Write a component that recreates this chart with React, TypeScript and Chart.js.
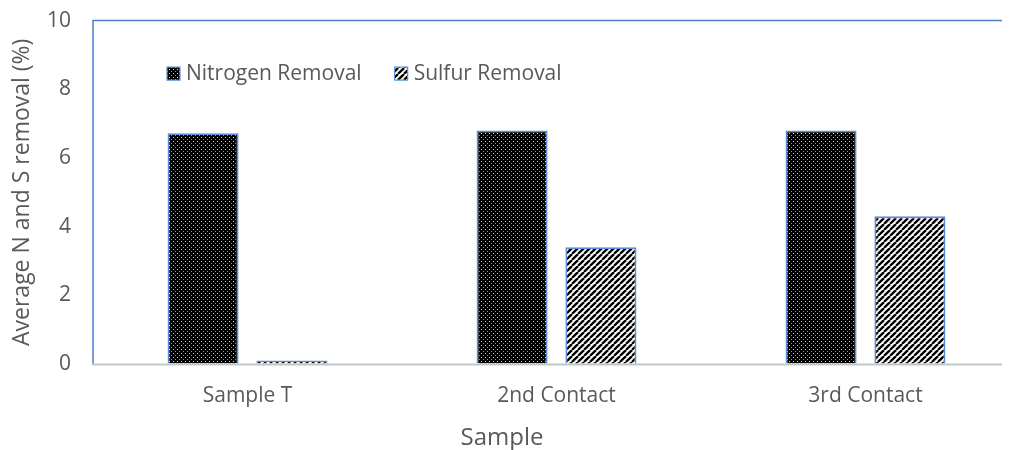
import React, { useEffect, useRef } from "react";
import { Chart, registerables } from "chart.js";

Chart.register(...registerables);

const categories = ["Sample T", "2nd Contact", "3rd Contact"];
const nitrogenRemoval = [6.72, 6.8, 6.8];
const sulfurRemoval = [0.1, 3.4, 4.3];
const seriesLabels = ["Nitrogen Removal", "Sulfur Removal"];
const yTicks = [0, 2, 4, 6, 8, 10];
const xTitle = "Sample";
const yTitle = "Average N and S removal (%)";

const FONT = "'Open Sans', 'Noto Sans', sans-serif";
const TEXT = "#595959";
const BLUE = "#4F7FCB";
const BAR_BORDER = "#5B8ED6";
const AXIS_GRAY = "#C3C7CC";

function dotPattern(ctx: CanvasRenderingContext2D) {
  const c = document.createElement("canvas");
  c.width = 4;
  c.height = 4;
  const g = c.getContext("2d")!;
  g.fillStyle = "#000";
  g.fillRect(0, 0, 4, 4);
  g.fillStyle = "#d0d0d0";
  g.fillRect(1, 1, 1, 1);
  g.fillStyle = "#909090";
  g.fillRect(3, 3, 1, 1);
  return ctx.createPattern(c, "repeat")!;
}

function stripePattern(ctx: CanvasRenderingContext2D) {
  const c = document.createElement("canvas");
  c.width = 6;
  c.height = 6;
  const g = c.getContext("2d")!;
  g.fillStyle = "#fff";
  g.fillRect(0, 0, 6, 6);
  g.strokeStyle = "#000";
  g.lineWidth = 2.3;
  for (const x0 of [-6, 0, 6]) {
    g.beginPath();
    g.moveTo(x0, 6);
    g.lineTo(x0 + 6, 0);
    g.stroke();
  }
  return ctx.createPattern(c, "repeat")!;
}

export default function App() {
  const ref = useRef<HTMLCanvasElement>(null);

  useEffect(() => {
    document.body.style.overflow = "hidden";
    document.documentElement.style.overflow = "hidden";
    const canvas = ref.current!;
    const ctx = canvas.getContext("2d")!;
    const dots = dotPattern(ctx);
    const stripes = stripePattern(ctx);
    const fills = [dots, stripes];

    const framePlugin = {
      id: "frame",
      beforeDatasetsDraw(chart: any) {
        const { ctx: c } = chart;
        const xs = chart.scales.x;
        const ys = chart.scales.y;
        c.save();
        c.strokeStyle = BLUE;
        c.lineWidth = 1.5;
        c.beginPath();
        c.moveTo(xs.left, ys.bottom);
        c.lineTo(xs.left, ys.top);
        c.lineTo(chart.width, ys.top);
        c.stroke();
        c.restore();
      },
      afterDatasetsDraw(chart: any) {
        const { ctx: c } = chart;
        const xs = chart.scales.x;
        const ys = chart.scales.y;
        c.save();
        c.strokeStyle = AXIS_GRAY;
        c.lineWidth = 2;
        c.beginPath();
        c.moveTo(xs.left - 1, ys.bottom + 0.5);
        c.lineTo(chart.width, ys.bottom + 0.5);
        c.stroke();
        c.restore();
      },
      afterDraw(chart: any) {
        const { ctx: c, chartArea: a } = chart;
        c.save();
        c.font = `21px ${FONT}`;
        c.textBaseline = "middle";
        c.textAlign = "left";
        let x = a.left + 74;
        const y = a.top + 53;
        seriesLabels.forEach((lab, i) => {
          c.fillStyle = fills[i];
          c.fillRect(x, y - 6.5, 13, 13);
          c.strokeStyle = BAR_BORDER;
          c.lineWidth = 1.2;
          c.strokeRect(x, y - 6.5, 13, 13);
          c.fillStyle = TEXT;
          c.fillText(lab, x + 19, y);
          x = x + 19 + c.measureText(lab).width + 33;
        });
        // x-axis title, centred on the whole chart
        c.font = `24px ${FONT}`;
        c.textAlign = "center";
        c.fillText(xTitle, 494, chart.height - 12);
        c.restore();
      },
    };

    const chart = new Chart(canvas, {
      type: "bar",
      data: {
        labels: categories,
        datasets: [
          {
            label: seriesLabels[0],
            data: nitrogenRemoval,
            backgroundColor: dots as any,
            borderColor: BAR_BORDER,
            borderWidth: 1.8,
          },
          {
            label: seriesLabels[1],
            data: sulfurRemoval,
            backgroundColor: stripes as any,
            borderColor: BAR_BORDER,
            borderWidth: 1.8,
          },
        ],
      },
      options: {
        responsive: false,
        animation: false,
        layout: { padding: { top: 12, right: 2, left: 0, bottom: 0 } },
        datasets: { bar: { categoryPercentage: 0.575, barPercentage: 0.8 } },
        plugins: { legend: { display: false }, tooltip: { enabled: false } },
        scales: {
          x: {
            grid: { display: true, color: "rgba(0,0,0,0)", drawTicks: true, tickLength: 19, drawOnChartArea: false },
            border: { display: false },
            ticks: { color: TEXT, font: { family: FONT, size: 21 }, padding: 0 },
            afterFit(s: any) {
              s.height = 86;
            },
          },
          y: {
            min: 0,
            max: 10,
            afterBuildTicks(s: any) {
              s.ticks = yTicks.map((v) => ({ value: v }));
            },
            grid: { display: true, color: "rgba(0,0,0,0)", drawTicks: true, tickLength: 22, drawOnChartArea: false },
            border: { display: false },
            ticks: { color: TEXT, font: { family: FONT, size: 21 }, padding: 0 },
            title: {
              display: true,
              text: yTitle,
              color: TEXT,
              font: { family: FONT, size: 23 },
              padding: { top: 1, bottom: 0 },
            },
            afterFit(s: any) {
              s.width = 85;
            },
          },
        },
      },
      plugins: [framePlugin],
    });
    return () => chart.destroy();
  }, []);

  return (
    <div style={{ width: 1002, height: 442, overflow: "hidden" }}>
      <canvas ref={ref} width={1014} height={442} />
    </div>
  );
}
